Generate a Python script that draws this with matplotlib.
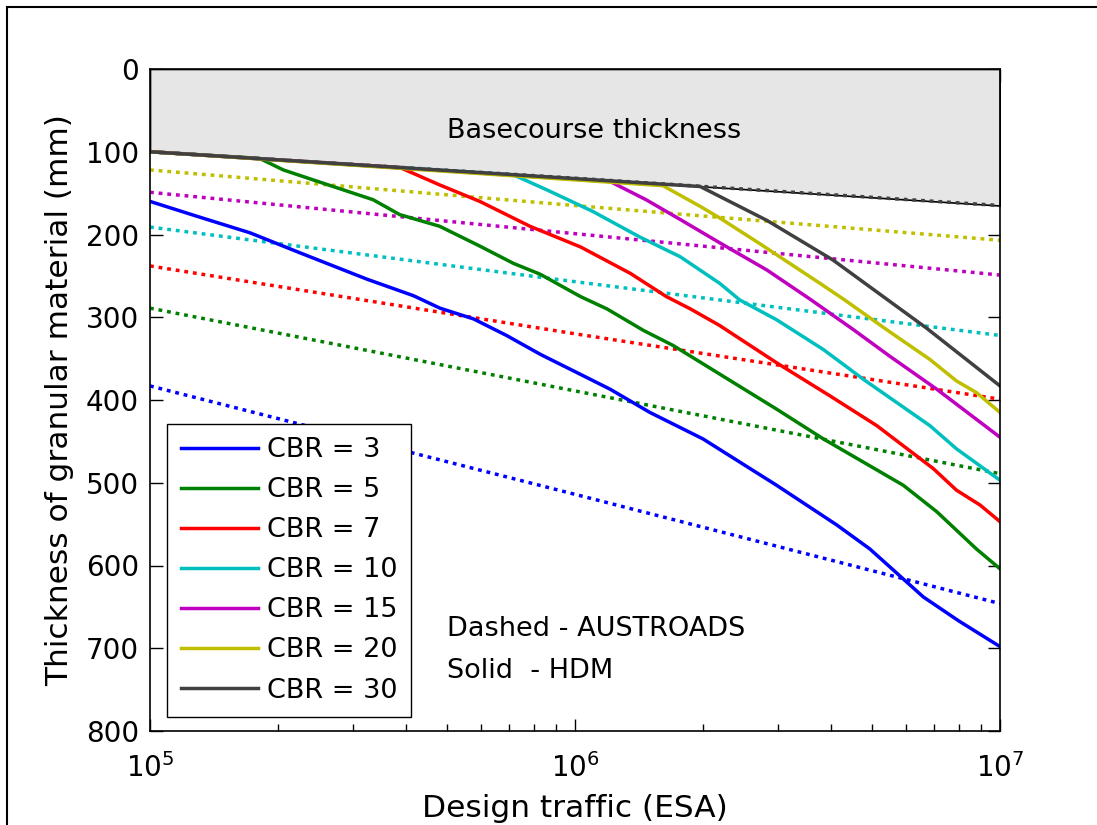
import numpy as np
import matplotlib
matplotlib.use('Agg')
import matplotlib.pyplot as plt
from matplotlib.patches import Rectangle

# design traffic (ESA) for the basecourse and AUSTROADS lines
esa_ref = [1e5, 1e6, 1e7]
basecourse = [100, 132, 165]

# AUSTROADS (dotted) thickness, mm
aus = {
    3: [383, 514, 646],
    5: [289, 389, 489],
    7: [238, 320, 399],
    10: [191, 257, 322],
    15: [149, 199, 249],
    20: [122, 165, 207],
    30: [100, 132, 165],
}

# HDM (solid) thickness, mm
hdm_3_x = [1e5, 1.29e5, 1.72e5, 2.25e5, 3.24e5, 4.17e5, 4.81e5, 5.77e5, 6.9e5, 8.3e5,
           1.03e6, 1.21e6, 1.5e6, 2.0e6, 2.98e6, 4.13e6, 4.94e6, 6.6e6, 8.0e6, 1e7]
hdm_3_y = [160, 178, 198, 222, 254, 274, 289, 302, 322, 345,
           369, 387, 415, 447, 503, 551, 580, 638, 667, 698]
hdm_5_x = [1e5, 1.81e5, 2.06e5, 2.42e5, 3.35e5, 3.87e5, 4.8e5, 5.97e5, 7.17e5, 8.28e5,
           1.03e6, 1.19e6, 1.45e6, 1.7e6, 1.87e6, 2.98e6, 3.84e6, 5.92e6, 7.1e6, 8.8e6, 1e7]
hdm_5_y = [100, 108, 122, 134, 158, 176, 190, 214, 235, 248,
           275, 290, 316, 334, 347, 411, 447, 503, 535, 580, 604]
hdm_7_x = [1e5, 3.87e5, 4.8e5, 5.97e5, 7.83e5, 1.03e6, 1.35e6, 1.64e6,
           1.87e6, 2.19e6, 2.98e6, 3.98e6, 5.13e6, 6.97e6, 7.9e6, 8.98e6, 1e7]
hdm_7_y = [100, 119, 140, 160, 190, 215, 247, 275,
           290, 310, 355, 395, 431, 483, 509, 527, 547]
hdm_10_x = [1e5, 7.17e5, 8.58e5, 1.1e6, 1.42e6, 1.77e6, 2.19e6, 2.44e6, 2.98e6,
            3.84e6, 4.77e6, 6.84e6, 7.9e6, 1e7]
hdm_10_y = [100, 128, 146, 172, 203, 227, 259, 279, 303,
            339, 375, 431, 459, 497]
hdm_15_x = [1e5, 1.21e6, 1.47e6, 1.77e6, 2.19e6, 2.83e6, 3.57e6, 4.52e6, 5.5e6, 7.1e6, 1e7]
hdm_15_y = [100, 136, 158, 182, 210, 243, 278, 315, 347, 387, 445]
hdm_20_x = [1e5, 1.61e6, 1.97e6, 2.19e6, 2.72e6, 3.77e6, 4.28e6, 5.41e6, 6.84e6, 7.9e6, 8.8e6, 1e7]
hdm_20_y = [100, 141, 166, 180, 211, 259, 278, 315, 351, 377, 391, 415]
hdm_30_x = [1e5, 1.97e6, 2.83e6, 4.05e6, 6.71e6, 1e7]
hdm_30_y = [100, 142, 183, 231, 313, 383]

hdm = {
    3: (hdm_3_x, hdm_3_y),
    5: (hdm_5_x, hdm_5_y),
    7: (hdm_7_x, hdm_7_y),
    10: (hdm_10_x, hdm_10_y),
    15: (hdm_15_x, hdm_15_y),
    20: (hdm_20_x, hdm_20_y),
    30: (hdm_30_x, hdm_30_y),
}

cbr_colors = {
    3: (0, 0, 1),
    5: (0, 0.5, 0),
    7: (1, 0, 0),
    10: (0, 0.75, 0.75),
    15: (0.75, 0, 0.75),
    20: (0.75, 0.75, 0),
    30: (0.25, 0.25, 0.25),
}

plt.rcParams['font.family'] = ['DejaVu Sans']
fs = 19.5
fs_tick = 20
fs_label = 22.5
lw = 2.5

fig = plt.figure(figsize=(10.97, 8.25), dpi=100)
ax = fig.add_axes([150 / 1097, (825 - 731) / 825, 850 / 1097, 662 / 825])

# grey basecourse region
ax.fill_between(esa_ref, 0, basecourse, facecolor=(0.9, 0.9, 0.9),
                edgecolor='black', linewidth=1.2, zorder=2.6)

for cbr, ys in aus.items():
    ax.plot(esa_ref, ys, color=cbr_colors[cbr], linestyle=(0, (1.1, 1.4)),
            linewidth=lw, zorder=3)

for cbr, (xs, ys) in hdm.items():
    ax.plot(xs, ys, color=cbr_colors[cbr], linewidth=lw, zorder=3,
            label='CBR = {}'.format(cbr))

ax.set_xscale('log')
ax.set_xlim(1e5, 1e7)
ax.set_ylim(800, 0)
ax.set_yticks(range(0, 801, 100))

ax.tick_params(which='both', direction='in', top=True, right=True, labelsize=fs_tick)
ax.tick_params(which='major', length=9, width=1)
ax.tick_params(which='minor', length=5, width=1)
ax.tick_params(axis='y', pad=8)
ax.tick_params(axis='x', which='major', pad=16)
for spine in ax.spines.values():
    spine.set_zorder(4)
    spine.set_linewidth(1.2)

ax.set_xlabel('Design traffic (ESA)', fontsize=fs_label, labelpad=8)
ax.set_ylabel('Thickness of granular material (mm)', fontsize=fs_label, labelpad=8)

x_text = 10 ** (5 + 297 / 425)
ax.text(x_text, 83.5, 'Basecourse thickness', fontsize=fs, ha='left', va='baseline', zorder=5)
ax.text(x_text, 685, 'Dashed - AUSTROADS', fontsize=fs, ha='left', va='baseline')
ax.text(x_text, 736, 'Solid  - HDM', fontsize=fs, ha='left', va='baseline')

leg = ax.legend(loc='lower left', bbox_to_anchor=(0.02, 0.021), fontsize=fs,
                fancybox=False, framealpha=1, edgecolor='black', handlelength=2.85,
                borderpad=0.5, labelspacing=0.52, handletextpad=0.35, borderaxespad=0)
leg.get_frame().set_linewidth(1.0)
leg.set_zorder(6)

# outer frame of the original figure (left and top edges visible)
fig.patches.append(Rectangle((7 / 1097, -0.1), 1.2, (825 - 7) / 825 + 0.1,
                             transform=fig.transFigure, fill=False,
                             edgecolor='black', linewidth=1.5))

fig.savefig('out.png', dpi=100)
